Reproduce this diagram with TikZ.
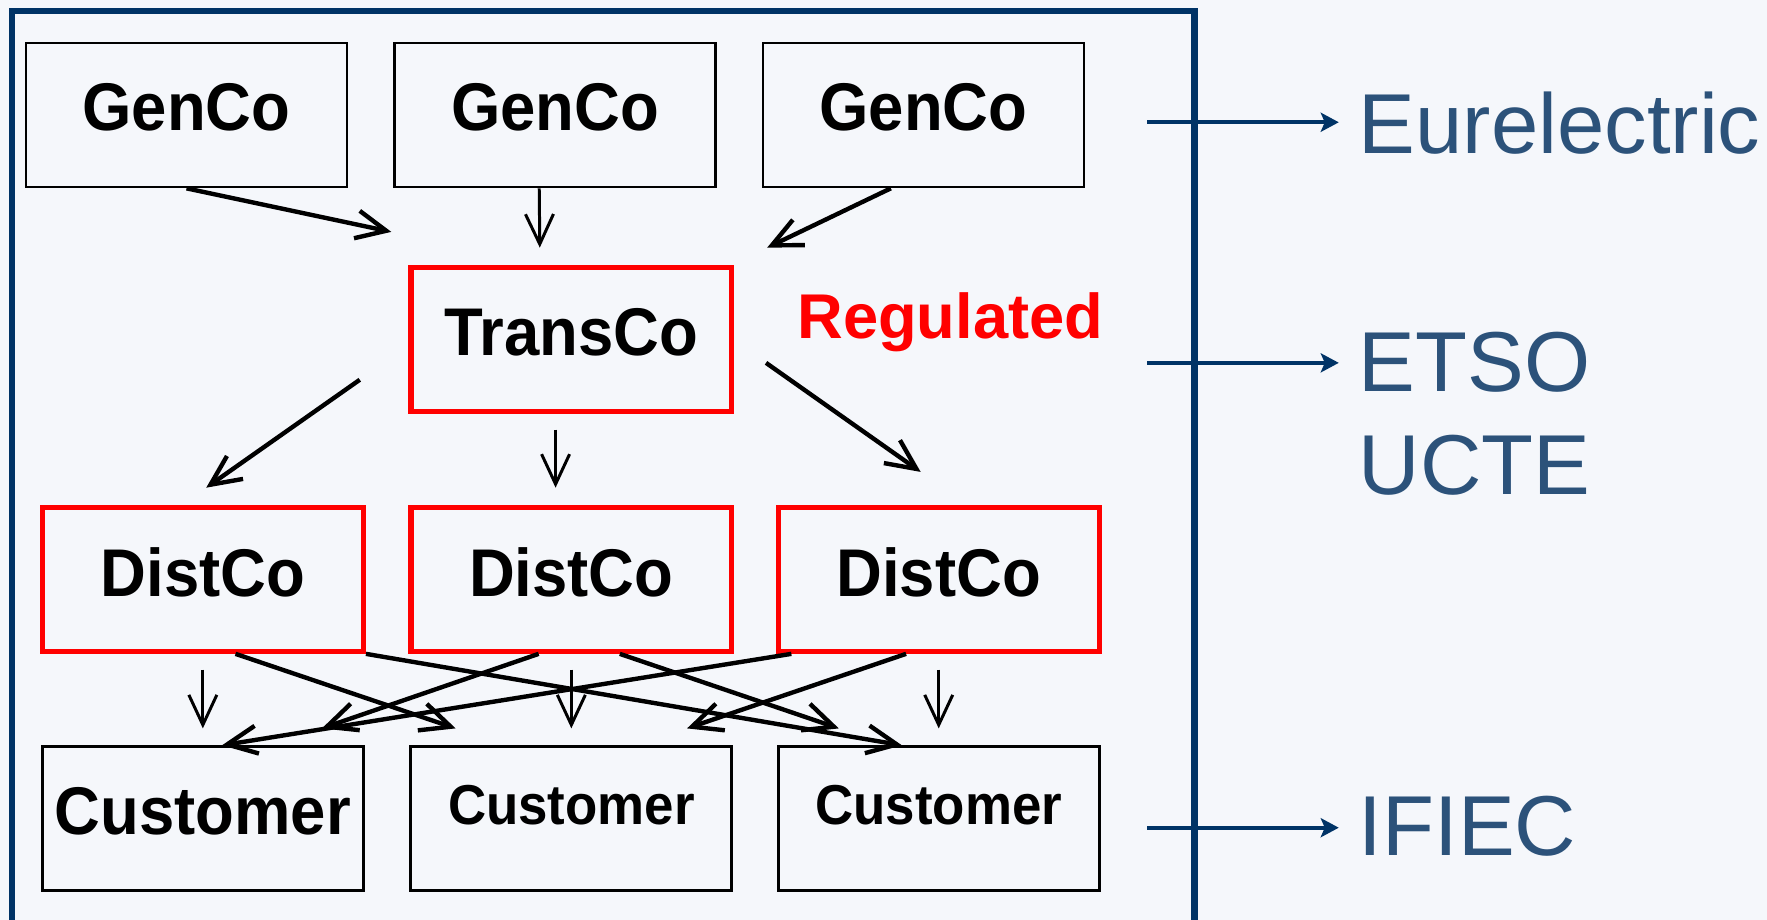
\documentclass[tikz,border=0pt]{standalone}
\usepackage{fontspec}
\setmainfont{Liberation Sans}
\newfontfamily\boxfont{Liberation Sans}[FakeStretch=0.94]
\usetikzlibrary{arrows.meta, positioning, calc}

\begin{document}
\begin{tikzpicture}[
    x=0.1127mm, y=-0.1127mm,
    >={Straight Barb[length=3mm, width=2.8mm]},
    company/.style={draw=black, line width=0.8pt, inner sep=0pt,
                    minimum width=32.1mm, minimum height=14.4mm,
                    font=\boxfont\bfseries\fontsize{19.2}{23}\selectfont,
                    text depth=4.3pt},
    regbox/.style={company, draw=red, line width=1.5pt},
    custsmall/.style={company, text depth=7.8pt,
                      font=\boxfont\bfseries\fontsize{16}{19}\selectfont},
    flow/.style={->, line width=1.25pt, black},
    flowthin/.style={->, line width=0.85pt, black},
    body/.style={anchor=base west, inner sep=5.5pt, text=orgText,
                 font=\fontsize{24.2}{29}\selectfont},
    link/.style={-{Stealth[length=1.8mm, width=1.9mm, inset=0.4mm]},
                 line width=1.15pt, frameBlue},
]

\definecolor{frameBlue}{RGB}{0,51,102}    % frame and side arrows
\definecolor{orgText}{RGB}{44,82,122}     % association names
\definecolor{pageBg}{RGB}{245,247,251}

% ============================================================
% PAGE AND FRAME
% ============================================================
\useasboundingbox (0,0) rectangle (1568,816);
\fill[pageBg] (0,0) rectangle (1568,816);
\draw[frameBlue, line width=1.8pt]
    (10.5,816) -- (10.5,10) -- (1060,10) -- (1060,816);

% ============================================================
% COMPANIES
% ============================================================
\node[company] (gen1) at (165.5,102) {GenCo};
\node[company] (gen2) at (492.5,102) {GenCo};
\node[company] (gen3) at (819.5,102) {GenCo};

\node[regbox] (trans) at (507,301) {TransCo};

\node[regbox] (dist1) at (180,514) {DistCo};
\node[regbox] (dist2) at (507,514) {DistCo};
\node[regbox] (dist3) at (833,514) {DistCo};

\node[company]   (cust1) at (180,726.5) {Customer};
\node[custsmall] (cust2) at (507,726.5) {Customer};
\node[custsmall] (cust3) at (833,726.5) {Customer};

\node[anchor=base west, inner sep=0pt, text=red,
      font=\bfseries\fontsize{18}{21}\selectfont] (reg) at (707,300) {Regulated};

% ============================================================
% FLOWS
% ============================================================
% GenCo -> TransCo
\draw[flow] (gen1.south) -- ($(trans.north west)+(-15,-29)$);
\draw[flowthin] ($(gen2.south)+(-14,0)$) -- ($(trans.north)+(-28,-15)$);
\draw[flow] ($(gen3.south)+(-29,0)$) -- ($(trans.north east)+(29,-15)$);

% TransCo -> DistCo
\draw[flow] ($(trans.west)+(-43,36)$) -- ($(dist1.north)+(3,-15)$);
\draw[flowthin] ($(trans.south)+(-14,14)$) -- ($(dist2.north)+(-14,-15)$);
\draw[flow] ($(trans.east)+(28,21)$) -- ($(dist3.north)+(-16,-29)$);

% DistCo -> Customer
\draw[flowthin] ($(dist1.south)+(0,14)$) -- ($(cust1.north)+(0,-15)$);
\draw[flowthin] ($(dist2.south)+(0,14)$) -- ($(cust2.north)+(0,-15)$);
\draw[flowthin] ($(dist3.south)+(0,14)$) -- ($(cust3.north)+(0,-15)$);

\draw[flow] ($(dist1.south)+(29,0)$) -- ($(cust2.north west)+(41,-15)$);
\draw[flow] (dist1.south east) -- ($(cust3.north west)+(111,0)$);
\draw[flow] ($(dist2.south)+(-29,0)$) -- ($(cust1.north east)+(-38,-15)$);
\draw[flow] ($(dist2.south)+(43,0)$) -- ($(cust3.north west)+(55,-15)$);
\draw[flow] ($(dist3.south west)+(14,0)$) -- ($(cust1.north)+(17,0)$);
\draw[flow] ($(dist3.south)+(-29,0)$) -- ($(cust2.north east)+(-41,-15)$);

% ============================================================
% ASSOCIATIONS (right side)
% ============================================================
\node[body] (eur)   at (1188,136)   {Eurelectric};
\node[body] (etso)  at (1188,347.5) {ETSO};
\node[body] (ucte)  at (1188,438.5) {UCTE};
\node[body] (ifiec) at (1188,759.5) {IFIEC};

\coordinate (eurin)   at (1018,108.5);
\coordinate (etsoin)  at (1018,322);
\coordinate (ifiecin) at (1018,734.5);

\draw[link] (eurin) -- (eurin -| eur.west);
\draw[link] (etsoin) -- (etsoin -| etso.west);
\draw[link] (ifiecin) -- (ifiecin -| ifiec.west);

\end{tikzpicture}
\end{document}
